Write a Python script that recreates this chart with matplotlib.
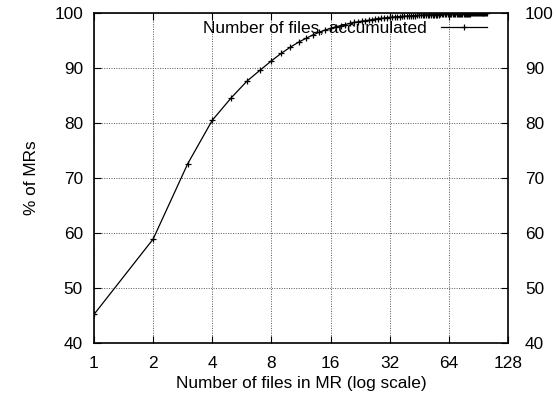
import matplotlib
matplotlib.use('Agg')
import matplotlib.pyplot as plt
import matplotlib.transforms as mtransforms
from matplotlib.ticker import NullLocator

plt.rcParams['font.family'] = ['Liberation Sans', 'DejaVu Sans']

# number of files in an MR (1..100) and accumulated % of MRs
num_files = list(range(1, 101))
pct_accum = [
    45.2, 58.9, 72.6, 80.5, 84.6, 87.6, 89.6, 91.3, 92.7, 93.8,
    94.7, 95.4, 96.0, 96.5, 96.9, 97.2, 97.5, 97.7, 97.9, 98.1,
    98.3, 98.4, 98.5, 98.6, 98.7, 98.8, 98.9, 99.0, 99.05, 99.1,
    99.15, 99.2, 99.25, 99.3, 99.33, 99.36, 99.39, 99.42, 99.45, 99.48,
    99.5, 99.52, 99.54, 99.56, 99.58, 99.6, 99.62, 99.63, 99.64, 99.65,
    99.66, 99.67, 99.68, 99.69, 99.7, 99.71, 99.72, 99.73, 99.74, 99.75,
    99.76, 99.77, 99.78, 99.78, 99.79, 99.8, 99.8, 99.81, 99.82, 99.82,
    99.83, 99.84, 99.84, 99.85, 99.86, 99.86, 99.87, 99.88, 99.88, 99.89,
    99.9, 99.9, 99.91, 99.92, 99.92, 99.93, 99.94, 99.94, 99.95, 99.96,
    99.96, 99.97, 99.97, 99.98, 99.98, 99.99, 99.99, 100.0, 100.0, 100.0,
]
xtick_vals = [1, 2, 4, 8, 16, 32, 64, 128]
xtick_labels = ['1', '2', '4', '8', '16', '32', '64', '128']
ytick_vals = [40, 50, 60, 70, 80, 90, 100]

fs = 12.4
fig = plt.figure(figsize=(5.56, 3.98), dpi=100)
ax = fig.add_axes([94 / 556, 1 - 343 / 398, (508 - 94) / 556, (343 - 13) / 398])

ax.plot(num_files, pct_accum, color='black', lw=0.9, marker='+', ms=5, mew=0.9,
        label='Number of files, accumulated')

ax.set_xscale('log', base=2)
ax.set_xlim(1, 128)
ax.set_ylim(40, 100)
ax.set_xticks(xtick_vals)
ax.set_xticklabels(xtick_labels)
ax.xaxis.set_minor_locator(NullLocator())
ax.set_yticks(ytick_vals)

ax.tick_params(direction='in', top=True, right=True, labelright=True,
               length=5, width=0.8, labelsize=fs)
ax.tick_params(axis='x', pad=9)
ax.tick_params(axis='y', pad=8)
# right-hand labels sit a bit further from the frame
shift = mtransforms.ScaledTranslation(6 / 100, 0, fig.dpi_scale_trans)
for tick in ax.yaxis.get_major_ticks():
    tick.label2.set_transform(tick.label2.get_transform() + shift)

ax.grid(True, linestyle=(0, (1, 1.5)), color='#555555', lw=0.7)
for s in ax.spines.values():
    s.set_linewidth(1.2)

ax.set_xlabel('Number of files in MR (log scale)', fontsize=fs, labelpad=4)
ax.set_ylabel('% of MRs', fontsize=fs, labelpad=11)

ax.legend(loc='upper right', bbox_to_anchor=(0.966, 0.997), frameon=False,
          markerfirst=False, numpoints=1, handlelength=2.7, fontsize=fs,
          borderaxespad=0, handletextpad=0.8)

fig.savefig('out.png', dpi=100)
